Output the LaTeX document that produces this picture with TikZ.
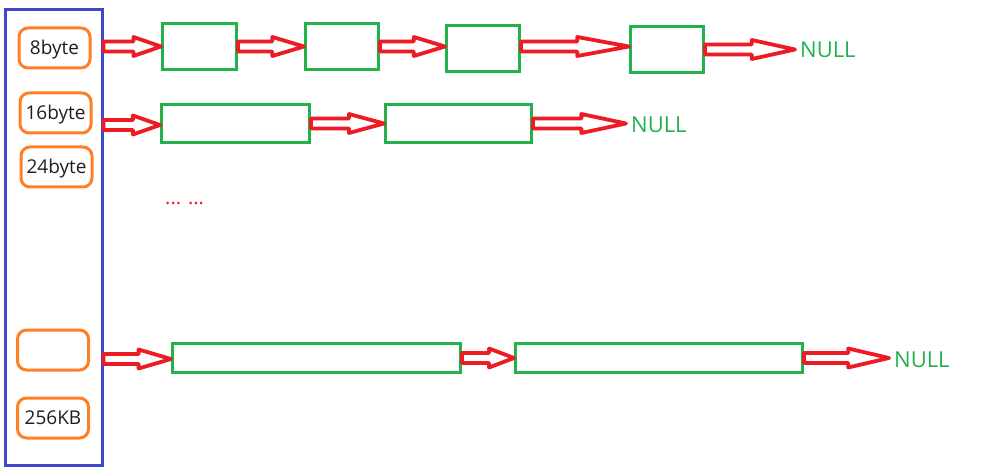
\documentclass[tikz,border=0pt]{standalone}
\usepackage{fontspec}
\setmainfont{Open Sans}
\usetikzlibrary{calc}
\definecolor{poolblue}{HTML}{3F48CC}
\definecolor{slotorange}{HTML}{FF7F27}
\definecolor{blockgreen}{HTML}{22B14C}
\definecolor{linkred}{HTML}{ED1C24}
\definecolor{labelgray}{HTML}{1E1E1E}

\begin{document}
\begin{tikzpicture}[x=1pt,y=-1pt,
  slot/.style={draw=slotorange, line width=3pt, rounded corners=9pt,
    minimum width=71pt, minimum height=40pt, inner sep=0pt,
    text height=13.6pt, text depth=0pt,
    font=\fontsize{19}{21}\selectfont, text=labelgray},
  block/.style={draw=blockgreen, line width=3pt, inner sep=0pt},
  nulltext/.style={text=blockgreen, font=\fontsize{22}{24}\selectfont,
    anchor=west, inner xsep=5pt, inner ysep=0pt},
  % hollow block arrow: shaft plus triangular head, head about half the length
  link/.style={draw=linkred, fill=white, line width=3.8pt, line join=round,
    to path={let \p1=(\tikztostart), \p2=(\tikztotarget),
      \n1={0.48*(\x2-\x1)} in
      (\x1,{\y1+5pt}) -- ({\x2-\n1},{\y1+5pt}) -- ({\x2-\n1},{\y1+9.5pt})
      -- (\x2,\y1) -- ({\x2-\n1},{\y1-9.5pt}) -- ({\x2-\n1},{\y1-5pt})
      -- (\x1,{\y1-5pt}) -- cycle}}]

\useasboundingbox (0,0) rectangle (996,473);

% free-list header column
\node[draw=poolblue, line width=3pt, minimum width=97pt, minimum height=455pt,
  inner sep=0pt] (pool) at (53.5,237.5) {};

\node[slot] (s8)   at (54.5,48)  {8byte};
\node[slot] (s16)  at (55.5,113) {16byte};
\node[slot] (s24)  at (56.5,167) {24byte};
\node[slot] (sx)   at (53,350)   {};
\node[slot] (s256) at (53,418)   {256KB};

% 8 byte chain
\node[block, minimum width=74pt, minimum height=46pt] (b11) at (199.5,46.5) {};
\node[block, minimum width=73pt, minimum height=46pt] (b12) at (342,46.5) {};
\node[block, minimum width=73pt, minimum height=46pt] (b13) at (483,48.5) {};
\node[block, minimum width=73pt, minimum height=46pt] (b14) at (667,49.5) {};
\node[nulltext] (n1) at (795,50) {NULL};

% 16 byte chain
\node[block, minimum width=148pt, minimum height=38pt] (b21) at (235.5,123.5) {};
\node[block, minimum width=146pt, minimum height=38pt] (b22) at (458.5,123.5) {};
\node[nulltext] (n2) at (626,125) {NULL};

% 256 KB chain
\node[block, minimum width=288pt, minimum height=29pt] (b31) at (316.5,358) {};
\node[block, minimum width=287pt, minimum height=29pt] (b32) at (659,358) {};
\node[nulltext] (n3) at (889,360) {NULL};

\node[text=linkred, font=\fontsize{20}{22}\selectfont, anchor=base west,
  inner sep=0pt] (dots) at (165,204.5) {... ...};

\coordinate (o1) at (pool.east |- b11.west);
\coordinate (o2) at ([yshift=-1.5pt]pool.east |- b21.west);
\coordinate (o3) at ([yshift=-1pt]pool.east |- b31.west);

\draw[link] (o1) to (b11.west);
\draw[link] (b11.east) to (b12.west);
\draw[link] (b12.east) to (b13.west);
\draw[link] ([yshift=2pt]b13.east) to (b14.west);
\draw[link] (b14.east) to (n1.west);

\draw[link] (o2) to (b21.west);
\draw[link] (b21.east) to (b22.west);
\draw[link] (b22.east) to (n2.west);

\draw[link] (o3) to (b31.west);
\draw[link] (b31.east) to (b32.west);
\draw[link] (b32.east) to (n3.west);
\end{tikzpicture}
\end{document}
